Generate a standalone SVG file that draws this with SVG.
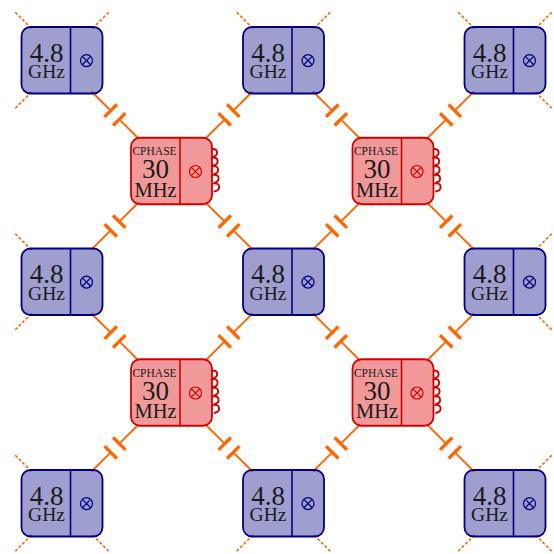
<svg xmlns="http://www.w3.org/2000/svg" width="554" height="554" viewBox="0 0 554 554">
<style>
text{font-family:"Liberation Serif","Times New Roman",serif;fill:#1a1a1a;text-anchor:middle}
.big{font-size:27px}.unit{font-size:19.5px}.mhz{font-size:20.5px}.tiny{font-size:11.5px}
.stub{stroke:#ff6600;stroke-width:1.6;stroke-dasharray:3 2;fill:none}
.wire{stroke:#ff6600;stroke-width:1.9;fill:none}
.plate{stroke:#ff6600;stroke-width:3.4;fill:none}
.bq{fill:#000080;fill-opacity:.38;stroke:#000080;stroke-width:1.8}
.rq{fill:#dc0000;fill-opacity:.4;stroke:#d40000;stroke-width:1.8}
.bd{stroke:#000080;stroke-width:1.6;fill:none}
.rd{stroke:#d40000;stroke-width:1.6;fill:none}
.coil{stroke:#d40000;stroke-width:1.9;fill:none}
.bl{stroke:#000080;stroke-width:1.2;fill:none}
.rl{stroke:#d40000;stroke-width:1.2;fill:none}
</style>
<defs>
<g id="blue">
<rect class="bq" x="-40.5" y="-33.25" width="81" height="66.5" rx="9"/>
<path class="bd" d="M8.5-33.25V33.25"/>
<circle class="bl" cx="24.5" cy="0.3" r="6"/>
<path class="bl" d="M20.3-3.9L28.7 4.5M28.7-3.9L20.3 4.5"/>
</g>
<g id="red">
<path class="coil" d="M40.5-22c6.5-.5 6.5 6.5 1.5 7.6l-1 1c6.5-.5 6.5 6.5 1.5 7.6l-1 1c6.5-.5 6.5 6.5 1.5 7.6l-1 1c6.5-.5 6.5 6.5 1.5 7.6l-1 1c6.5-.5 6.5 6.5 1.5 7.6l-1.5 1"/>
<rect class="rq" x="-40.5" y="-33.25" width="81" height="66.5" rx="9"/>
<path class="rd" d="M8.5-33.25V33.25"/>
<circle class="rl" cx="24" cy="0.5" r="6"/>
<path class="rl" d="M19.8-3.7L28.2 4.7M28.2-3.7L19.8 4.7"/>
</g>
<g id="capD"><path class="wire" d="M-23.5-23.5L-4.3-4.3M4.3 4.3L23.5 23.5"/><path class="plate" d="M-10.5 1.9L1.9-10.5M-1.9 10.5L10.5-1.9"/></g>
<g id="capU"><path class="wire" d="M-23.5 23.5L-4.3 4.3M4.3-4.3L23.5-23.5"/><path class="plate" d="M-10.5-1.9L1.9 10.5M-1.9-10.5L10.5 1.9"/></g>
<path id="s1" class="stub" d="M1.5 1.5L-16-16"/>
<path id="s2" class="stub" d="M-1.5 1.5L16-16"/>
<path id="s3" class="stub" d="M1.5-1.5L-16 16"/>
<path id="s4" class="stub" d="M-1.5-1.5L16 16"/>
</defs>
<g id="connectors">
<use href="#capD" x="115" y="115"/><use href="#capU" x="229" y="115"/><use href="#capD" x="336.5" y="115"/><use href="#capU" x="450.5" y="115"/>
<use href="#capU" x="115" y="226"/><use href="#capD" x="229" y="226"/><use href="#capU" x="336.5" y="226"/><use href="#capD" x="450.5" y="226"/>
<use href="#capD" x="115" y="337"/><use href="#capU" x="229" y="337"/><use href="#capD" x="336.5" y="337"/><use href="#capU" x="450.5" y="337"/>
<use href="#capU" x="115" y="448"/><use href="#capD" x="229" y="448"/><use href="#capU" x="336.5" y="448"/><use href="#capD" x="450.5" y="448"/>
<use href="#s1" x="30" y="27"/><use href="#s2" x="94" y="27"/><use href="#s1" x="251.5" y="27"/><use href="#s2" x="315.5" y="27"/><use href="#s1" x="473" y="27"/><use href="#s2" x="537" y="27"/>
<use href="#s3" x="30" y="93.5"/><use href="#s4" x="537" y="93.5"/>
<use href="#s1" x="30" y="248.5"/><use href="#s3" x="30" y="315"/><use href="#s2" x="537" y="248.5"/><use href="#s4" x="537" y="315"/>
<use href="#s1" x="30" y="470"/><use href="#s2" x="537" y="470"/>
<use href="#s3" x="30" y="536.5"/><use href="#s4" x="94" y="536.5"/><use href="#s3" x="251.5" y="536.5"/><use href="#s4" x="315.5" y="536.5"/><use href="#s3" x="473" y="536.5"/><use href="#s4" x="537" y="536.5"/>
</g>
<g id="q11" transform="translate(62 60.25)"><use href="#blue"/><text class="big" x="-15.5" y="1.5">4.8</text><text class="unit" x="-15.5" y="17.8">GHz</text></g>
<g id="q13" transform="translate(283.5 60.25)"><use href="#blue"/><text class="big" x="-15.5" y="1.5">4.8</text><text class="unit" x="-15.5" y="17.8">GHz</text></g>
<g id="q15" transform="translate(505 60.25)"><use href="#blue"/><text class="big" x="-15.5" y="1.5">4.8</text><text class="unit" x="-15.5" y="17.8">GHz</text></g>
<g id="q31" transform="translate(62 281.75)"><use href="#blue"/><text class="big" x="-15.5" y="1.5">4.8</text><text class="unit" x="-15.5" y="17.8">GHz</text></g>
<g id="q33" transform="translate(283.5 281.75)"><use href="#blue"/><text class="big" x="-15.5" y="1.5">4.8</text><text class="unit" x="-15.5" y="17.8">GHz</text></g>
<g id="q35" transform="translate(505 281.75)"><use href="#blue"/><text class="big" x="-15.5" y="1.5">4.8</text><text class="unit" x="-15.5" y="17.8">GHz</text></g>
<g id="q51" transform="translate(62 503.25)"><use href="#blue"/><text class="big" x="-15.5" y="1.5">4.8</text><text class="unit" x="-15.5" y="17.8">GHz</text></g>
<g id="q53" transform="translate(283.5 503.25)"><use href="#blue"/><text class="big" x="-15.5" y="1.5">4.8</text><text class="unit" x="-15.5" y="17.8">GHz</text></g>
<g id="q55" transform="translate(505 503.25)"><use href="#blue"/><text class="big" x="-15.5" y="1.5">4.8</text><text class="unit" x="-15.5" y="17.8">GHz</text></g>
<g id="c22" transform="translate(171.5 171)"><use href="#red"/><text class="tiny" x="-17" y="-16">CPHASE</text><text class="big" x="-16" y="7">30</text><text class="mhz" x="-16" y="25.7">MHz</text></g>
<g id="c24" transform="translate(393 171)"><use href="#red"/><text class="tiny" x="-17" y="-16">CPHASE</text><text class="big" x="-16" y="7">30</text><text class="mhz" x="-16" y="25.7">MHz</text></g>
<g id="c42" transform="translate(171.5 392.5)"><use href="#red"/><text class="tiny" x="-17" y="-16">CPHASE</text><text class="big" x="-16" y="7">30</text><text class="mhz" x="-16" y="25.7">MHz</text></g>
<g id="c44" transform="translate(393 392.5)"><use href="#red"/><text class="tiny" x="-17" y="-16">CPHASE</text><text class="big" x="-16" y="7">30</text><text class="mhz" x="-16" y="25.7">MHz</text></g>
</svg>
